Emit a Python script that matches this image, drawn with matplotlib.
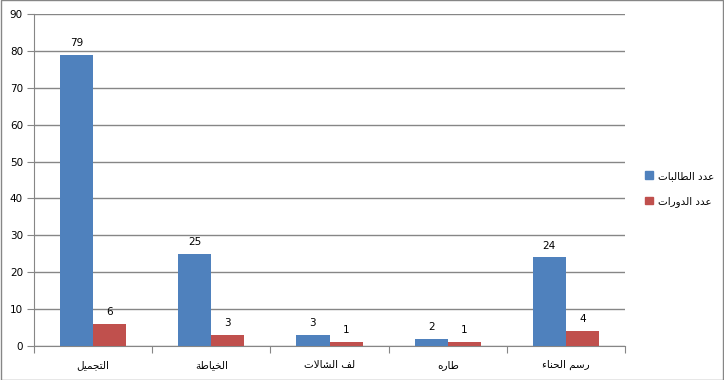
import numpy as np
import matplotlib.pyplot as plt
from matplotlib.patches import Rectangle

# Chart data
categories = ["التجميل", "الخياطة", "لف الشالات", "طاره", "رسم الحناء"]
series_names = ["عدد الطالبات", "عدد الدورات"]
students = [79, 25, 3, 2, 24]
courses = [6, 3, 1, 1, 4]
y_ticks = [0, 10, 20, 30, 40, 50, 60, 70, 80, 90]

# Arabic presentation forms: (isolated, final, initial, medial)
FORMS = {
    'ا': (0xFE8D, 0xFE8E, None, None),
    'ب': (0xFE8F, 0xFE90, 0xFE91, 0xFE92),
    'ة': (0xFE93, 0xFE94, None, None),
    'ت': (0xFE95, 0xFE96, 0xFE97, 0xFE98),
    'ج': (0xFE9D, 0xFE9E, 0xFE9F, 0xFEA0),
    'ح': (0xFEA1, 0xFEA2, 0xFEA3, 0xFEA4),
    'خ': (0xFEA5, 0xFEA6, 0xFEA7, 0xFEA8),
    'د': (0xFEA9, 0xFEAA, None, None),
    'ر': (0xFEAD, 0xFEAE, None, None),
    'س': (0xFEB1, 0xFEB2, 0xFEB3, 0xFEB4),
    'ش': (0xFEB5, 0xFEB6, 0xFEB7, 0xFEB8),
    'ط': (0xFEC1, 0xFEC2, 0xFEC3, 0xFEC4),
    'ع': (0xFEC9, 0xFECA, 0xFECB, 0xFECC),
    'ف': (0xFED1, 0xFED2, 0xFED3, 0xFED4),
    'ل': (0xFEDD, 0xFEDE, 0xFEDF, 0xFEE0),
    'م': (0xFEE1, 0xFEE2, 0xFEE3, 0xFEE4),
    'ن': (0xFEE5, 0xFEE6, 0xFEE7, 0xFEE8),
    'ه': (0xFEE9, 0xFEEA, 0xFEEB, 0xFEEC),
    'و': (0xFEED, 0xFEEE, None, None),
    'ي': (0xFEF1, 0xFEF2, 0xFEF3, 0xFEF4),
    'LA': (0xFEFB, 0xFEFC, None, None),
}


def shape(text):
    # matplotlib has no Arabic shaping, so pick joined forms and reverse
    toks = []
    i = 0
    while i < len(text):
        if text[i] == 'ل' and i + 1 < len(text) and text[i + 1] == 'ا':
            toks.append('LA')
            i += 2
        else:
            toks.append(text[i])
            i += 1
    out = []
    for k, t in enumerate(toks):
        if t not in FORMS:
            out.append(t)
            continue
        f = FORMS[t]
        prev = k > 0 and toks[k - 1] in FORMS and FORMS[toks[k - 1]][2] is not None
        nxt = (f[2] is not None and k + 1 < len(toks) and toks[k + 1] in FORMS)
        if prev and nxt:
            c = f[3]
        elif prev:
            c = f[1]
        elif nxt:
            c = f[2]
        else:
            c = f[0]
        out.append(chr(c))
    return ''.join(out)[::-1]


blue = "#4F81BD"
red = "#C0504D"
grid = "#868686"
fs = 7.5

fig = plt.figure(figsize=(7.24, 3.80), dpi=100)
fig.patch.set_facecolor("white")
fig.patches.append(Rectangle((0.0007, 0.0013), 0.9986, 0.9974, transform=fig.transFigure,
                             fill=False, edgecolor=grid, linewidth=1))
ax = fig.add_axes([34 / 724, 1 - 346 / 380, 591 / 724, 332 / 380])

x = np.arange(len(categories))
w = 0.28
b1 = ax.bar(x - w / 2, students, w, color=blue, zorder=3)
b2 = ax.bar(x + w / 2, courses, w, color=red, zorder=3)
for bars, vals in ((b1, students), (b2, courses)):
    for r, v in zip(bars, vals):
        ax.annotate(str(v), (r.get_x() + r.get_width() / 2, v), xytext=(0, 5),
                    textcoords="offset points", ha="center", va="bottom", fontsize=fs)

ax.set_xlim(-0.5, len(categories) - 0.5)
ax.set_ylim(0, 90)
ax.set_yticks(y_ticks)
ax.set_yticklabels([str(t) for t in y_ticks], fontsize=fs)
ax.yaxis.grid(True, color=grid, linewidth=1, zorder=0)
ax.set_xticks(np.arange(len(categories) + 1) - 0.5)
ax.set_xticklabels([])
ax.set_xticks(x, minor=True)
ax.set_xticklabels([shape(c) for c in categories], minor=True, fontsize=fs)
ax.tick_params(axis="x", which="minor", length=0, pad=10)
ax.tick_params(axis="x", which="major", length=5, color=grid)
ax.tick_params(axis="y", length=5, color=grid, pad=3)
for s in ("top", "right"):
    ax.spines[s].set_visible(False)
for s in ("left", "bottom"):
    ax.spines[s].set_color(grid)

handles = [Rectangle((0, 0), 1, 1, color=blue), Rectangle((0, 0), 1, 1, color=red)]
fig.legend(handles, [shape(n) for n in series_names], loc="center left",
           bbox_to_anchor=(636 / 724, 1 - 189 / 380), frameon=False, fontsize=fs,
           handlelength=0.7, handleheight=0.7, handletextpad=0.5, labelspacing=1.5)

fig.savefig("out.png", dpi=100, facecolor="white")
